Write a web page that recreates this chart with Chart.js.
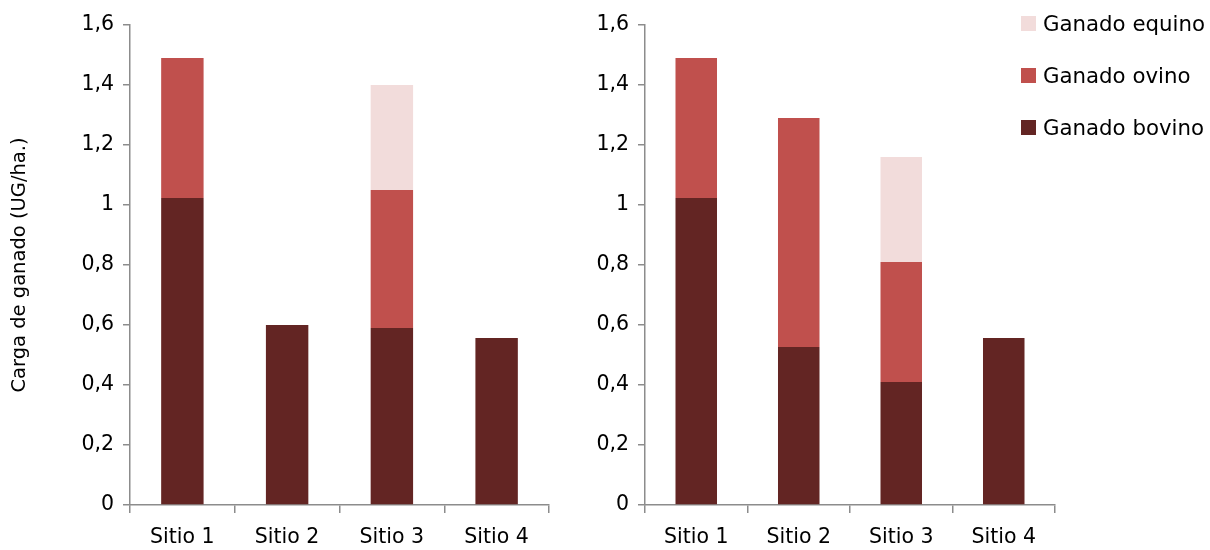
<!DOCTYPE html>
<html>
<head>
<meta charset="utf-8">
<script src="https://cdn.jsdelivr.net/npm/chart.js@4.4.0/dist/chart.umd.min.js"></script>
<style>
  html, body { margin: 0; padding: 0; background: #fff; }
  body { width: 1210px; height: 550px; position: relative; overflow: hidden; font-family: "DejaVu Sans", sans-serif; }
  .wrap { position: absolute; top: 0; height: 550px; }
  #legend { position: absolute; left: 1021px; top: 0; font-size: 21.3px; color: #000; }
  #legend .item { position: absolute; left: 0; white-space: nowrap; height: 22px; line-height: 22px; }
  #legend .box { display: inline-block; width: 15px; height: 15px; vertical-align: middle; margin-right: 7px; position: relative; top: -2px; }
</style>
</head>
<body>
<div class="wrap" style="left:0;width:560px;"><canvas id="c1" width="560" height="550"></canvas></div>
<div class="wrap" style="left:560px;width:510px;"><canvas id="c2" width="510" height="550"></canvas></div>
<div id="legend"></div>
<script>
const categories = ["Sitio 1", "Sitio 2", "Sitio 3", "Sitio 4"];
const seriesNames = ["Ganado bovino", "Ganado ovino", "Ganado equino"];
const seriesColors = ["#632523", "#C0504D", "#F2DCDB"];
// Left panel
const leftBovino = [1.023, 0.60, 0.59, 0.557];
const leftOvino  = [0.467, 0, 0.46, 0];
const leftEquino = [0, 0, 0.35, 0];
// Right panel
const rightBovino = [1.023, 0.527, 0.41, 0.557];
const rightOvino  = [0.467, 0.763, 0.40, 0];
const rightEquino = [0, 0, 0.35, 0];
const yTicks = [0, 0.2, 0.4, 0.6, 0.8, 1, 1.2, 1.4, 1.6];

const FONT = "'DejaVu Sans', sans-serif";
const AXIS_COLOR = "#8c8c8c";

function makeChart(id, data, yAxisWidth, showTitle, padRight) {
  const datasets = data.map((vals, i) => ({
    label: seriesNames[i],
    data: vals,
    backgroundColor: seriesColors[i],
    borderWidth: 0,
    barPercentage: 0.405,
    categoryPercentage: 1.0
  }));
  return new Chart(document.getElementById(id), {
    type: 'bar',
    data: { labels: categories, datasets },
    options: {
      responsive: false,
      animation: false,
      layout: { padding: { top: 25, right: padRight, left: 0, bottom: 0 } },
      plugins: { legend: { display: false }, tooltip: { enabled: false } },
      scales: {
        x: {
          stacked: true,
          grid: { display: true, drawOnChartArea: false, drawTicks: true, tickLength: 8, color: AXIS_COLOR, lineWidth: 1.5, offset: true },
          border: { display: true, color: AXIS_COLOR, width: 1.5 },
          ticks: { color: "#000", font: { family: FONT, size: 20.5 }, padding: 12 },
          afterFit: (s) => { s.height = 45; }
        },
        y: {
          stacked: true,
          min: 0, max: 1.6,
          afterBuildTicks: (s) => { s.ticks = yTicks.map(v => ({ value: v })); },
          grid: { display: true, drawOnChartArea: false, drawTicks: true, tickLength: 7, color: AXIS_COLOR, lineWidth: 1.5 },
          border: { display: true, color: AXIS_COLOR, width: 1.5 },
          ticks: {
            color: "#000", font: { family: FONT, size: 20.5 }, padding: 9,
            callback: (v) => String(Math.round(v * 10) / 10).replace('.', ',')
          },
          title: showTitle ? { display: true, text: "Carga de ganado (UG/ha.)", color: "#000", font: { family: FONT, size: 19.5 }, padding: { top: 8, bottom: 0 } } : { display: false },
          afterFit: (s) => { s.width = yAxisWidth; }
        }
      }
    }
  });
}

makeChart('c1', [leftBovino, leftOvino, leftEquino], 130, true, 11);
makeChart('c2', [rightBovino, rightOvino, rightEquino], 85, false, 15);

// HTML legend from series (reverse order, top = equino)
const legend = document.getElementById('legend');
const tops = [13, 65, 117];
[2, 1, 0].forEach((i, k) => {
  const d = document.createElement('div');
  d.className = 'item';
  d.style.top = tops[k] + 'px';
  d.innerHTML = '<span class="box" style="background:' + seriesColors[i] + '"></span>' + seriesNames[i];
  legend.appendChild(d);
});
</script>
</body>
</html>
